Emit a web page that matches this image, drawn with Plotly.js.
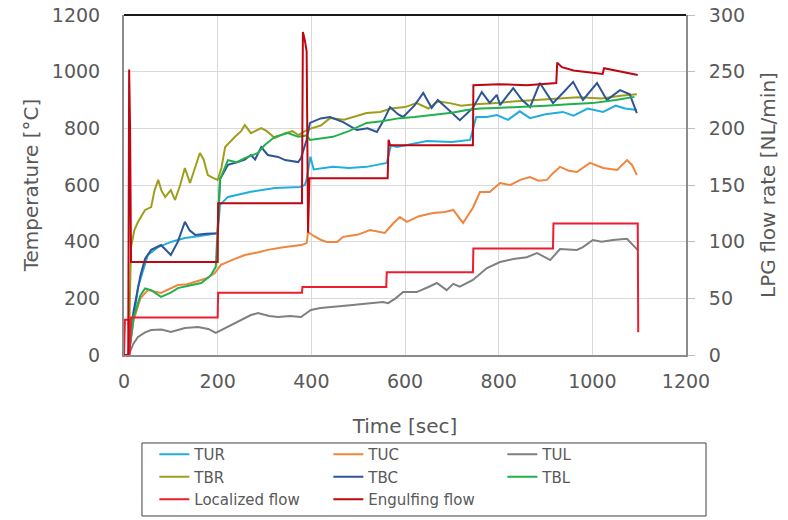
<!DOCTYPE html>
<html>
<head>
<meta charset="utf-8">
<script src="https://cdn.plot.ly/plotly-3.0.1.min.js"></script>
<style>html,body{margin:0;padding:0;background:#fff;}#chart{width:788px;height:520px;}</style>
</head>
<body>
<div id="chart"></div>
<script>
// ---- Data ----
var tTUR = [10,15,30,51,73,102,130,162,200,205,222,271,322,376,386,390,398,405,446,480,518,561,570,583,647,700,739,752,775,796,820,845,867,900,937,960,990,1023,1050,1070,1095];
var TUR  = [0,60,240,353,381,400,413,420,430,530,558,576,589,593,600,620,700,655,664,660,664,678,740,734,755,752,759,840,840,847,830,860,836,850,858,845,870,858,880,870,865];

var tTUC = [10,20,35,51,79,100,115,135,152,175,194,207,230,258,285,307,340,378,390,393,405,421,433,455,468,500,525,557,575,589,604,630,660,685,703,724,745,760,781,803,825,846,867,885,903,915,931,950,967,995,1023,1053,1074,1085,1095];
var TUC  = [0,120,200,229,219,235,247,250,258,270,289,318,335,353,362,371,380,388,395,434,420,406,399,399,417,425,441,431,465,487,470,490,501,505,512,466,520,575,575,607,600,618,628,615,618,640,664,650,646,678,660,653,688,670,635];

var tTUL = [10,20,30,45,58,80,100,130,158,180,196,222,245,271,286,310,329,355,378,399,419,450,483,520,553,564,580,596,625,650,668,689,703,717,745,775,803,831,860,882,910,931,967,980,1001,1020,1044,1074,1091,1097];
var TUL  = [0,40,64,80,88,90,81,95,99,92,78,99,120,141,148,138,134,138,134,159,166,172,176,182,187,183,200,222,222,240,254,229,251,241,265,307,328,339,345,360,335,374,371,381,406,400,406,410,381,370];

var tTBR = [10,15,22,30,45,58,65,73,80,88,100,109,120,130,141,150,162,170,179,190,200,208,216,237,250,258,271,293,305,322,344,360,372,386,400,420,440,470,500,518,547,570,600,625,650,670,696,720,750,796,830,870,920,970,1020,1060,1095];
var TBR  = [0,380,440,470,512,522,580,618,580,558,582,547,600,660,607,650,713,690,635,625,618,660,734,770,790,812,783,801,790,766,783,790,776,790,800,810,836,830,845,854,858,870,875,889,870,895,889,880,885,889,895,900,905,910,905,915,920];

var tTBC = [10,20,35,45,58,79,90,100,115,130,140,152,175,200,205,222,243,258,271,280,293,300,307,329,344,372,378,390,397,420,440,468,497,520,540,555,568,585,596,620,639,657,670,690,717,745,764,781,796,803,831,850,867,888,916,940,959,980,1010,1031,1059,1080,1095];
var TBC  = [0,150,280,340,371,388,370,353,400,470,440,424,428,430,620,671,681,690,706,690,734,720,706,699,688,681,695,760,819,835,840,822,794,800,787,830,875,850,840,880,925,872,900,870,829,872,928,890,918,882,942,900,875,960,889,930,964,900,960,900,935,920,854];

var tTBL = [10,20,35,45,58,79,100,115,140,165,185,196,205,222,240,258,286,300,322,350,372,390,397,446,480,518,550,589,620,660,700,732,760,796,850,900,950,1000,1050,1090];
var TBL  = [0,130,210,235,229,205,220,236,245,254,280,311,620,688,680,695,713,740,770,783,770,775,759,770,790,819,825,836,840,847,855,865,870,872,875,880,885,889,900,911];

var tLoc = [0,2,10,12,15,200,201,380,381,560,561,745,746,916,917,1097,1098];
var Loc  = [0,31,31,0,33,33,55,55,60,60,73,73,94,94,116,116,20];

var tEng = [0,9,11,13,15,200,201,380,382,386,390,393,396,563,565,568,745,746,800,860,923,925,935,960,1000,1022,1025,1050,1075,1097];
var Eng  = [0,0,252,200,82,82,134,134,285,278,268,108,156,156,190,185,185,238,239,238,240,258,254,251,249,248,253,251,249,247];

var names  = ['TUR','TUC','TUL','TBR','TBC','TBL','Localized flow','Engulfing flow'];
var colors = ['#22AEDC','#F0853D','#808080','#9E9E1C','#2E5596','#22B04E','#EE1C2E','#BE0712'];

// ---- Traces ----
var series = [[tTUR,TUR],[tTUC,TUC],[tTUL,TUL],[tTBR,TBR],[tTBC,TBC],[tTBL,TBL],[tLoc,Loc],[tEng,Eng]];
var traces = series.map(function(s,i){
  return {
    x: s[0], y: s[1], name: names[i], type: 'scatter', mode: 'lines',
    yaxis: i >= 6 ? 'y2' : 'y',
    line: {color: colors[i], width: 2}
  };
});

var fontFam = '"DejaVu Sans", Verdana, sans-serif';
var txtCol = '#595959';

var layout = {
  width: 788, height: 520,
  margin: {l: 124, r: 102, t: 15, b: 165, autoexpand: false},
  paper_bgcolor: '#fff', plot_bgcolor: '#fff',
  font: {family: fontFam, color: txtCol, size: 18},
  showlegend: true,
  xaxis: {
    range: [0, 1200], dtick: 200, tick0: 0,
    showgrid: true, gridcolor: '#d9d9d9', gridwidth: 1,
    zeroline: false, showline: true, linecolor: '#8c8c8c', linewidth: 2,
    ticks: '', ticklabelstandoff: 8,
    tickfont: {size: 19, color: txtCol},
    title: {text: 'Time [sec]', font: {size: 20, color: txtCol}, standoff: 28}
  },
  yaxis: {
    range: [0, 1200], dtick: 200, tick0: 0,
    showgrid: true, gridcolor: '#d9d9d9', gridwidth: 1,
    zeroline: false, showline: true, linecolor: '#8c8c8c', linewidth: 2,
    ticks: '', ticklabelstandoff: 18,
    tickfont: {size: 19, color: txtCol},
    title: {text: 'Temperature [°C]', font: {size: 20, color: txtCol}, standoff: 8}
  },
  yaxis2: {
    overlaying: 'y', side: 'right',
    range: [0, 300], dtick: 50, tick0: 0,
    showgrid: false, zeroline: false,
    showline: true, linecolor: '#8c8c8c', linewidth: 2,
    ticks: 'outside', ticklen: 7, tickcolor: '#bfbfbf', ticklabelstandoff: 10,
    tickfont: {size: 19, color: txtCol},
    title: {text: 'LPG flow rate [NL/min]', font: {size: 20, color: txtCol}, standoff: 17}
  },
  shapes: [
    {type: 'line', xref: 'paper', yref: 'paper', x0: 0, x1: 1, y0: 1, y1: 1, line: {color: '#1a1a1a', width: 2}},
    {type: 'rect', xref: 'paper', yref: 'paper', x0: 0.032, x1: 1.0356, y0: -0.2588, y1: -0.4735, line: {color: '#404040', width: 1}, fillcolor: 'rgba(0,0,0,0)'}
  ],
  legend: {
    orientation: 'h', x: 0.054, xanchor: 'left', y: -0.244, yanchor: 'top',
    borderwidth: 0, bgcolor: 'rgba(0,0,0,0)',
    font: {size: 15, color: txtCol},
    entrywidth: 129, entrywidthmode: 'pixels',
    tracegroupgap: 0, itemwidth: 30
  }
};

Plotly.newPlot('chart', traces, layout, {displayModeBar: false, staticPlot: true});
</script>
</body>
</html>
